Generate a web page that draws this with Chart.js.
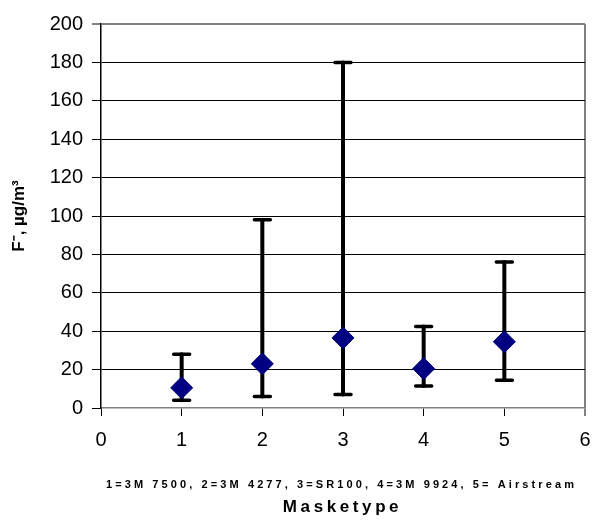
<!DOCTYPE html>
<html>
<head>
<meta charset="utf-8">
<script src="https://cdn.jsdelivr.net/npm/chart.js@4"></script>
<style>
  html, body { margin: 0; padding: 0; background: #fff; }
  #wrap { width: 592px; height: 522px; }
</style>
</head>
<body>
<div id="wrap"><canvas id="myChart" width="592" height="522"></canvas></div>
<script>
'use strict';

// ***** DATA *****
const maskTypes = [1, 2, 3, 4, 5];
const meanF = [10.5, 23, 36.5, 20.5, 34.5];
const lowF = [4, 6, 7, 11.5, 14.5];
const highF = [28, 98, 180, 42.5, 76];
const xTicks = [0, 1, 2, 3, 4, 5, 6];
const yTicks = [0, 20, 40, 60, 80, 100, 120, 140, 160, 180, 200];
const captionText = '1=3M 7500, 2=3M 4277, 3=SR100, 4=3M 9924, 5= Airstream';
const xTitle = 'Masketype';
const yTitle = 'F\u207B, \u00B5g/m\u00B3';

const fontFamily = '"Liberation Sans", Arial, sans-serif';
const ctx = document.getElementById('myChart').getContext('2d');

// error bars, drawn behind the diamonds
const errorBars = {
  id: 'errorBars',
  beforeDatasetsDraw(chart) {
    const c = chart.ctx;
    const xs = chart.scales.x;
    const ys = chart.scales.y;
    c.save();
    c.strokeStyle = '#000';
    c.lineCap = 'round';
    for (let i = 0; i < maskTypes.length; i++) {
      let px = xs.getPixelForValue(maskTypes[i]);
      let top = ys.getPixelForValue(highF[i]);
      let bot = ys.getPixelForValue(lowF[i]);
      c.lineWidth = 4;
      c.beginPath();
      c.moveTo(px, top);
      c.lineTo(px, bot);
      c.stroke();
      c.lineWidth = 3.5;
      c.beginPath();
      c.moveTo(px - 8, top);
      c.lineTo(px + 8, top);
      c.moveTo(px - 8, bot);
      c.lineTo(px + 8, bot);
      c.stroke();
    }
    c.restore();
  }
};

// caption lines under the x axis (letter spaced like the original)
const captions = {
  id: 'captions',
  afterDraw(chart) {
    const c = chart.ctx;
    const area = chart.chartArea;
    const cx = (area.left + area.right) / 2;
    c.save();
    c.fillStyle = '#000';
    c.textAlign = 'center';
    c.textBaseline = 'middle';
    c.font = 'bold 11px ' + fontFamily;
    c.letterSpacing = '3.1px';
    c.fillText(captionText, cx - 1.5, 485);
    c.font = 'bold 17px ' + fontFamily;
    c.letterSpacing = '3.6px';
    c.fillText(xTitle, cx - 0.5, 507);
    c.restore();
  }
};

const chartObj = {
  type: 'scatter',
  data: {
    datasets: [{
      label: 'F',
      data: maskTypes.map((m, i) => ({ x: m, y: meanF[i] })),
      pointStyle: 'rectRot',
      pointRadius: 11,
      pointHoverRadius: 11,
      backgroundColor: '#000080',
      borderColor: '#000080',
      borderWidth: 1
    }]
  },
  options: {
    responsive: false,
    animation: false,
    layout: { autoPadding: false, padding: { top: 24, right: 7, left: 0, bottom: 0 } },
    plugins: {
      legend: { display: false },
      tooltip: { enabled: false }
    },
    scales: {
      x: {
        type: 'linear',
        min: 0,
        max: 6,
        afterBuildTicks: (s) => { s.ticks = xTicks.map(v => ({ value: v })); },
        afterFit: (s) => { s.height = 114; s.paddingLeft = 0; s.paddingRight = 0; },
        ticks: {
          color: '#000',
          padding: 12,
          font: { family: fontFamily, size: 20 }
        },
        grid: {
          color: (g) => g.tick && g.tick.value === 6 ? '#808080' : 'rgba(0,0,0,0)',
          lineWidth: (g) => g.tick && g.tick.value === 6 ? 2 : 1,
          tickColor: '#000',
          tickWidth: 1,
          tickLength: 8
        },
        border: { color: '#808080', width: 1.5 }
      },
      y: {
        type: 'linear',
        min: 0,
        max: 200,
        afterBuildTicks: (s) => { s.ticks = yTicks.map(v => ({ value: v })); },
        afterFit: (s) => { s.width = 101; },
        ticks: {
          color: '#000',
          padding: 9,
          font: { family: fontFamily, size: 20 }
        },
        grid: {
          color: (g) => {
            if (!g.tick) return '#000';
            if (g.tick.value === 200) return '#808080';
            if (g.tick.value === 0) return 'rgba(0,0,0,0)';
            return '#000';
          },
          lineWidth: (g) => g.tick && g.tick.value === 200 ? 2 : 1,
          tickColor: '#000',
          tickWidth: 1,
          tickLength: 9
        },
        border: { color: '#000', width: 1.5 },
        title: {
          display: true,
          text: yTitle,
          color: '#000',
          padding: { top: 9, bottom: 0 },
          font: { family: fontFamily, size: 17, weight: 'bold' }
        }
      }
    }
  },
  plugins: [errorBars, captions]
};

const myChart = new Chart(ctx, chartObj);
</script>
</body>
</html>
